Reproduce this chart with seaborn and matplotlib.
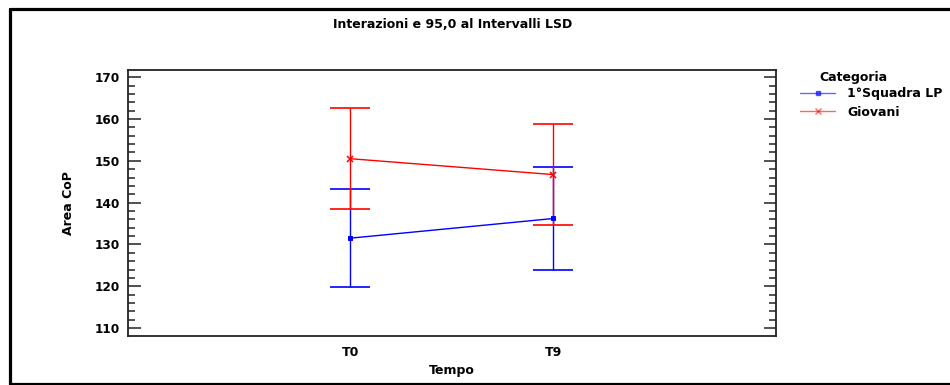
import matplotlib
matplotlib.use("Agg")
import matplotlib.pyplot as plt
from matplotlib.lines import Line2D
from matplotlib.ticker import MultipleLocator
import seaborn as sns
import pandas as pd

# Means and 95% LSD half-widths of Area CoP by time point and group
tempo = ["T0", "T9"]
categorie = ["1°Squadra LP", "Giovani"]
media_squadra = [131.5, 136.2]
media_giovani = [150.5, 146.7]
lsd_squadra = [11.8, 12.3]
lsd_giovani = [12.1, 12.1]

colori = {"1°Squadra LP": "#0000ff", "Giovani": "#ff0000"}
marcatori = {"1°Squadra LP": "s", "Giovani": "x"}
dim_marcatori = {"1°Squadra LP": 3.4, "Giovani": 4.6}

df = pd.DataFrame({
    "Tempo": tempo * 2,
    "Area CoP": media_squadra + media_giovani,
    "LSD": lsd_squadra + lsd_giovani,
    "Categoria": [categorie[0]] * 2 + [categorie[1]] * 2,
})

sns.set_theme(style="white")
plt.rcParams["font.family"] = ["DejaVu Sans"]
plt.rcParams["font.weight"] = "bold"
for key in ("text.color", "axes.labelcolor", "xtick.color", "ytick.color"):
    plt.rcParams[key] = "black"

FS = 9

fig = plt.figure(figsize=(9.5, 3.85), dpi=100)
ax = fig.add_axes([0.1347, 0.1273, 0.6821, 0.6907])

sns.pointplot(
    data=df, x="Tempo", y="Area CoP", hue="Categoria", order=tempo,
    hue_order=categorie, palette=colori, markers=["s", "x"],
    linestyles=["-", "-"], errorbar=None, dodge=False,
    linewidth=1.0, markersize=3.4, ax=ax, legend=False,
)
# Marker size per group (the cross reads larger than the square)
for line in ax.lines:
    if line.get_marker() == "x":
        line.set_markersize(dim_marcatori["Giovani"])
        line.set_markeredgewidth(1.1)

# LSD interval bars
for cat in categorie:
    sub = df[df["Categoria"] == cat]
    ax.errorbar(
        x=range(len(sub)), y=sub["Area CoP"], yerr=sub["LSD"], fmt="none",
        ecolor=colori[cat], elinewidth=1.0, capsize=14.4, capthick=1.2,
        zorder=1,
    )

ax.set_xlim(-1.096, 2.096)
ax.set_ylim(108.1, 171.7)
ax.yaxis.set_major_locator(MultipleLocator(10))
ax.yaxis.set_minor_locator(MultipleLocator(2))
ax.tick_params(axis="y", which="major", direction="in", length=9, width=1.1,
               left=True, right=True, labelsize=8.7, pad=6, color="#222222",
               labelcolor="black")
ax.tick_params(axis="y", which="minor", direction="in", length=5, width=1.1,
               left=True, right=True, color="#222222")
ax.tick_params(axis="x", length=0, labelsize=FS, pad=7, labelcolor="black")
for lab in ax.get_xticklabels() + ax.get_yticklabels():
    lab.set_fontweight("bold")
for sp in ax.spines.values():
    sp.set_visible(True)
    sp.set_color("#222222")
    sp.set_linewidth(1.3)

ax.set_xlabel("Tempo", fontsize=FS, fontweight="bold", labelpad=4,
              color="black")
ax.set_ylabel("Area CoP", fontsize=FS, fontweight="bold", labelpad=14,
              color="black")

fig.text(0.476, 1 - 25 / 385, "Interazioni e 95,0 al Intervalli LSD",
         ha="center", va="center", fontsize=FS, fontweight="bold",
         color="black")

# Legend
fig.text(819 / 950, 1 - 78 / 385, "Categoria", ha="left", va="center",
         fontsize=FS, fontweight="bold", color="black")
handles = [
    Line2D([], [], color=colori[c], marker=marcatori[c],
           markersize=dim_marcatori[c], linewidth=1.0, alpha=0.6)
    for c in categorie
]
leg = fig.legend(
    handles, categorie, loc="upper left",
    bbox_to_anchor=(800 / 950, 1 - 87 / 385), frameon=False, fontsize=FS,
    handlelength=2.8, handletextpad=0.95, labelspacing=0.45,
    borderpad=0.0, borderaxespad=0.0,
)
for t in leg.get_texts():
    t.set_fontweight("bold")
    t.set_color("black")

# Outer frame
fc = "black"
fig.add_artist(Line2D([9.5 / 950, 9.5 / 950], [1 - 8.5 / 385, 1 - 384 / 385],
                      transform=fig.transFigure, color=fc, linewidth=2.3))
fig.add_artist(Line2D([9.5 / 950, 1.0], [1 - 8.5 / 385, 1 - 8.5 / 385],
                      transform=fig.transFigure, color=fc, linewidth=2.3))
fig.add_artist(Line2D([9.5 / 950, 1.0], [1 - 384 / 385, 1 - 384 / 385],
                      transform=fig.transFigure, color=fc, linewidth=2.3))

fig.savefig("out.png", dpi=100)
